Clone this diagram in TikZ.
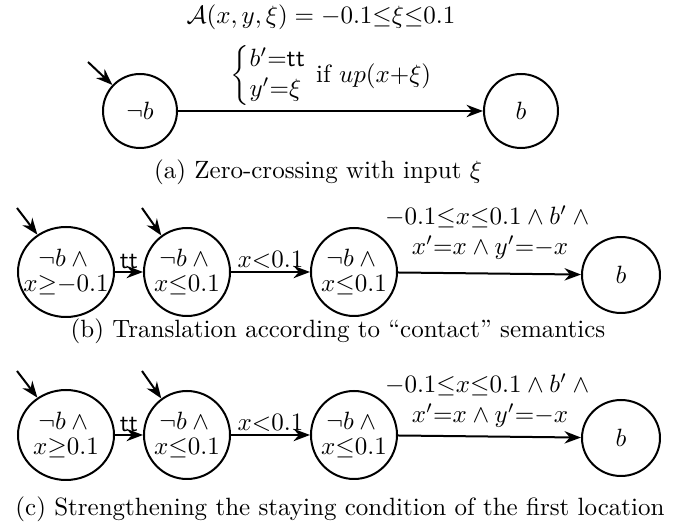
\documentclass[tikz,border=0pt]{standalone}
\usepackage{amsmath}
\usepackage{xcolor}
\usepackage{tikz}
\usetikzlibrary{arrows.meta, positioning, shapes.geometric}

\begin{document}
\begin{tikzpicture}[
  x=0.4pt, y=-0.4pt,
  loc/.style={ellipse, draw, thick, inner ysep=0pt, inner xsep=-5pt, align=center},
  round/.style={loc, minimum width=29.6pt, minimum height=29.6pt},
  wide/.style={loc, minimum width=38.4pt, minimum height=36pt},
  mid/.style={loc, minimum width=34.4pt, minimum height=35.2pt},
  goal/.style={loc, minimum width=31.2pt, minimum height=30.4pt},
  lbl/.style={inner sep=1pt},
  edge/.style={-Stealth, thick},
]
  \useasboundingbox (0,0) rectangle (683,526);

  % (a)
  \node[lbl] (hdr) at (321,17) {$\mathcal{A}(x,y,\xi) = -0.1{\leq}\xi{\leq}0.1$};
  \node[round] (a1) at (140,111) {$\neg b$};
  \node[round] (a2) at (521,111) {$b$};
  \coordinate (a1in) at (88,62);
  \draw[edge] (a1in) -- (a1);
  \draw[edge] (a1) -- (a2);
  \node[lbl] (ta) at (331,76) {$\left\{\begin{array}{@{}l@{}} b'{=}\mathsf{tt}\\ y'{=}\xi\end{array}\right.$ if $up(x{+}\xi)$};
  \node (capa) at (318,172) {(a) Zero-crossing with input $\xi$};

  % (b)
  \node[wide] (b1) at (66,272) {$\neg b\wedge{}$\\[-2pt]$x{\geq}{-0.1}$};
  \node[mid] (b2) at (187,272) {$\neg b\wedge{}$\\[-2pt]$x{\leq}0.1$};
  \node[mid] (b3) at (354,272) {$\neg b\wedge{}$\\[-2pt]$x{\leq}0.1$};
  \node[goal] (b4) at (621,275) {$b$};
  \coordinate (b1in) at (17,208);
  \coordinate (b2in) at (142,208);
  \draw[edge] (b1in) -- (b1);
  \draw[edge] (b2in) -- (b2);
  \draw[edge] (b1) -- (b2) node[midway, above, lbl] (tb1) {$\mathsf{tt}$};
  \draw[edge] (b2) -- (b3) node[midway, above, lbl] (tb2) {$x{<}0.1$};
  \draw[edge] (b3) -- (b4);
  \node[lbl, align=center] (tb3) at (490,233) {$-0.1{\leq}x{\leq}0.1\wedge b'\wedge{}$\\$x'{=}x\wedge y'{=}{-x}$};
  \node (capb) at (338,331) {(b) Translation according to ``contact'' semantics};

  % (c)
  \node[wide] (c1) at (66,435) {$\neg b\wedge{}$\\[-2pt]$x{\geq}0.1$};
  \node[mid] (c2) at (187,435) {$\neg b\wedge{}$\\[-2pt]$x{\leq}0.1$};
  \node[mid] (c3) at (354,435) {$\neg b\wedge{}$\\[-2pt]$x{\leq}0.1$};
  \node[goal] (c4) at (621,438) {$b$};
  \coordinate (c1in) at (17,371);
  \coordinate (c2in) at (142,371);
  \draw[edge] (c1in) -- (c1);
  \draw[edge] (c2in) -- (c2);
  \draw[edge] (c1) -- (c2) node[midway, above, lbl] (tc1) {$\mathsf{tt}$};
  \draw[edge] (c2) -- (c3) node[midway, above, lbl] (tc2) {$x{<}0.1$};
  \draw[edge] (c3) -- (c4);
  \node[lbl, align=center] (tc3) at (490,401) {$-0.1{\leq}x{\leq}0.1\wedge b'\wedge{}$\\$x'{=}x\wedge y'{=}{-x}$};
  \node (capc) at (340,509) {(c) Strengthening the staying condition of the first location};
\end{tikzpicture}
\end{document}
